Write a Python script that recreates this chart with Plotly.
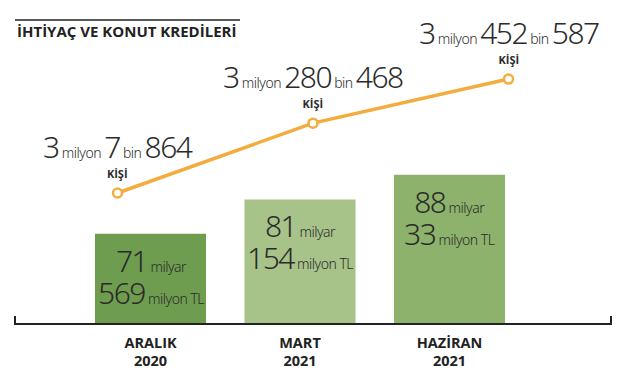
import plotly.graph_objects as go

# ---- data ----
periods = ["ARALIK<br>2020", "MART<br>2021", "HAZİRAN<br>2021"]
credit_million_tl = [71569, 81154, 88033]          # kredi (milyon TL)
persons = [3007864, 3280468, 3452587]              # kişi sayısı
bar_colors = ["#6f9d50", "#a7c389", "#8db26b"]
title = "İHTİYAÇ VE KONUT KREDİLERİ"

credit_billion = [v / 1000 for v in credit_million_tl]
persons_m = [p / 1e6 for p in persons]

NUM = "Noto Sans"
INK = "#2b2b2b"
BIGPX = 30
SMALLPX = 14

fig = go.Figure()

fig.add_trace(go.Bar(
    x=periods, y=credit_billion, marker=dict(color=bar_colors, line=dict(width=0)),
    xaxis="x", yaxis="y", hoverinfo="skip", showlegend=False,
))

fig.add_trace(go.Scatter(
    x=periods, y=persons_m, xaxis="x2", yaxis="y2", mode="lines+markers",
    line=dict(color="#f2ad3e", width=3.5),
    marker=dict(size=9, color="white", line=dict(color="#f2ad3e", width=2.5)),
    hoverinfo="skip", showlegend=False,
))

ann = []
def big(t):
    return f"<span style='font-size:{BIGPX}px;letter-spacing:-1.5px'>{t}</span>"
def sm(t):
    return f"<span style='font-size:{SMALLPX}px;letter-spacing:-0.5px'>{t}</span>"

for cat, v, vb in zip(periods, credit_million_tl, credit_billion):
    mil, mn = divmod(v, 1000)
    ann.append(dict(x=cat, y=vb, xref="x", yref="y", yanchor="top",
                    yshift=-4, showarrow=False,
                    text=f"{big(mil)}{sm(' milyar')}<br>{big(mn)}{sm(' milyon TL')}",
                    font=dict(family=NUM, size=24.5, color=INK, weight=300)))

for cat, p, pm in zip(periods, persons, persons_m):
    m, rest = divmod(p, 1_000_000)
    b, r = divmod(rest, 1000)
    ann.append(dict(x=cat, y=pm, xref="x2", yref="y2", yanchor="bottom",
                    yshift=10, showarrow=False,
                    text=(f"{big(m)}{sm(' milyon ')}{big(b)}{sm(' bin ')}{big(r)}"
                          f"<br><span style='font-size:11px;font-weight:bold;"
                          f"font-family:Open Sans'>KİŞİ</span>"),
                    font=dict(family=NUM, size=15, color=INK, weight=300)))

ann.append(dict(x=15 / 635, y=1 - 31 / 373, xref="paper", yref="paper",
                xanchor="left", yanchor="middle", showarrow=False,
                text=f"<b>{title}</b>",
                font=dict(family="Open Sans", size=15, color="#222")))

shapes = [
    dict(type="line", xref="paper", yref="paper", x0=15 / 635, x1=240 / 635,
         y0=1 - 20 / 373, y1=1 - 20 / 373, line=dict(color="#222", width=1.5)),
    dict(type="path", xref="paper", yref="paper",
         path=f"M {15/635},{1-316/373} L {15/635},{1-324/373} L {611/635},{1-324/373} L {611/635},{1-316/373}",
         line=dict(color="#222", width=2)),
]

fig.update_layout(
    width=635, height=373,
    margin=dict(l=0, r=0, t=0, b=0),
    paper_bgcolor="white", plot_bgcolor="rgba(0,0,0,0)",
    bargap=0.257,
    xaxis=dict(domain=[75.75 / 635, 524.25 / 635], anchor="y", type="category",
               range=[-0.5, 2.5],
               showgrid=False, zeroline=False, showline=False, ticks="",
               tickfont=dict(family="Open Sans", size=14.5, color="#222", weight="bold"),
               ticklabelstandoff=8),
    yaxis=dict(domain=[49 / 373, 1], range=[46.44, 136.72], visible=False),
    xaxis2=dict(domain=[19.75 / 635, 606.25 / 635], anchor="y2", type="category",
                range=[-0.5, 2.5], visible=False),
    yaxis2=dict(domain=[0, 1], range=[2.3053, 3.7612], anchor="x2", visible=False),
    annotations=ann, shapes=shapes,
)

fig.write_html("out.html", config={"displayModeBar": False},
               post_script="document.body.style.margin='0';")
